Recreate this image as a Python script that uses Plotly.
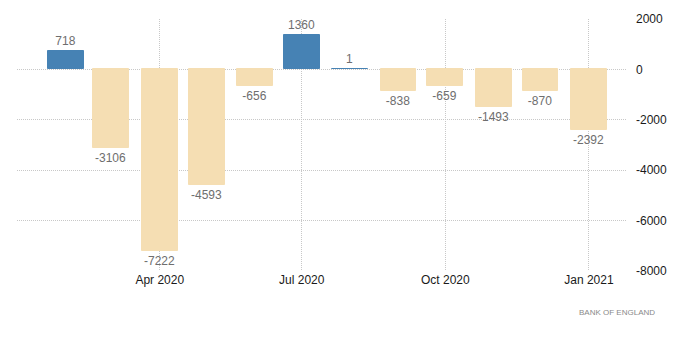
import plotly.graph_objects as go

months = ["2020-02-01", "2020-03-01", "2020-04-01", "2020-05-01", "2020-06-01", "2020-07-01",
          "2020-08-01", "2020-09-01", "2020-10-01", "2020-11-01", "2020-12-01", "2021-01-01"]
values = [718, -3106, -7222, -4593, -656, 1360, 1, -838, -659, -1493, -870, -2392]
tick_dates = ["2020-04-01", "2020-07-01", "2020-10-01", "2021-01-01"]
tick_labels = ["Apr 2020", "Jul 2020", "Oct 2020", "Jan 2021"]
y_ticks = [2000, 0, -2000, -4000, -6000, -8000]

BLUE = "#4682B4"
BEIGE = "#F5DEB3"
colors = [BLUE if v > 0 else BEIGE for v in values]

fig = go.Figure(go.Bar(
    x=months, y=values,
    width=[23 * 86400000] * len(values),
    marker=dict(color=colors, line=dict(color=colors, width=1)),
    text=[str(v) for v in values],
    textposition="outside",
    textfont=dict(color="#6e6e6e", size=12, family="Liberation Sans"),
    cliponaxis=False,
))

fig.update_layout(
    width=700, height=363,
    margin=dict(l=17, r=73, t=19, b=92),
    paper_bgcolor="white", plot_bgcolor="white",
    showlegend=False,
    font=dict(family="Liberation Sans", size=12, color="#222222"),
    bargap=0,
)
fig.update_xaxes(
    type="date",
    range=["2019-12-31 12:00", "2021-01-25 10:00"],
    tickvals=tick_dates, ticktext=tick_labels,
    showgrid=True, gridcolor="#c8c8c8", griddash="1px,1px", gridwidth=1,
    showline=False, zeroline=False, ticks="",
    tickfont=dict(size=12, color="#1a1a1a"),
)
fig.update_yaxes(
    side="right", range=[-8000, 2000],
    tickvals=y_ticks, ticktext=[str(t) for t in y_ticks],
    showgrid=True, gridcolor="#c8c8c8", griddash="1px,1px", gridwidth=1,
    zeroline=False, showline=False, ticks="",
    ticklabelstandoff=8,
    tickfont=dict(size=12, color="#1a1a1a"),
)
fig.add_annotation(
    text="BANK OF ENGLAND", xref="paper", yref="paper",
    x=(657 - 17) / 610, y=(271 - 312) / 252,
    xanchor="right", yanchor="middle", showarrow=False,
    font=dict(size=8, color="#8a8a8a", family="Liberation Sans"),
)

fig.write_html("out.html", config={"displayModeBar": False},
               post_script="document.body.style.margin='0';document.body.style.padding='0';")
